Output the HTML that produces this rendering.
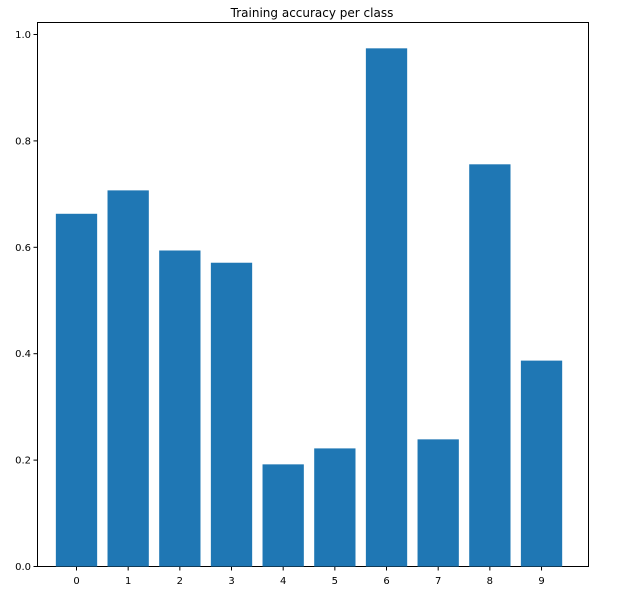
<!DOCTYPE html>
<html><head><meta charset="utf-8"><style>
body{margin:0;background:#fff;}
svg{display:block;font-family:"DejaVu Sans","Liberation Sans",sans-serif;}
</style></head><body>
<svg id="chart" width="621" height="604">
<text x="312" y="17" text-anchor="middle" font-size="12">Training accuracy per class</text>
<rect x="37.5" y="22.5" width="551" height="544" fill="none" stroke="#000" stroke-width="1"/>
<g id="bars"></g><g id="xaxis"></g><g id="yaxis"></g>
</svg>
<script>
const categories=["0","1","2","3","4","5","6","7","8","9"];
const values=[0.663,0.707,0.594,0.571,0.192,0.222,0.974,0.239,0.756,0.387];
const yTicks=[0.0,0.2,0.4,0.6,0.8,1.0];
const NS="http://www.w3.org/2000/svg";
const y=v=>566.5-v*532;
const x=i=>76.5+i*51.67;
const bw=41.3;
function mk(t,a,p){const e=document.createElementNS(NS,t);for(const k in a)e.setAttribute(k,a[k]);p.appendChild(e);return e;}
const gb=document.getElementById('bars'),gx=document.getElementById('xaxis'),gy=document.getElementById('yaxis');
values.forEach((v,i)=>{
 const r=mk('rect',{x:x(i)-bw/2,y:y(v),width:bw,height:y(0)-y(v),fill:'#1f77b4'},gb);
 
 
});
categories.forEach((c,i)=>{
 const l=mk('line',{x1:x(i),x2:x(i),y1:567,y2:570.5,stroke:'#000'},gx);
 
 
 const t=mk('text',{x:x(i),y:584,'text-anchor':'middle','font-size':10},gx);t.textContent=c;
 
 
});
yTicks.forEach(v=>{
 const l=mk('line',{x1:33.5,x2:37.5,y1:y(v),y2:y(v),stroke:'#000'},gy);
 
 
 const t=mk('text',{x:31,y:y(v)+3.5,'text-anchor':'end','font-size':10},gy);t.textContent=v.toFixed(1);
 
 
});
</script>
</body></html>
